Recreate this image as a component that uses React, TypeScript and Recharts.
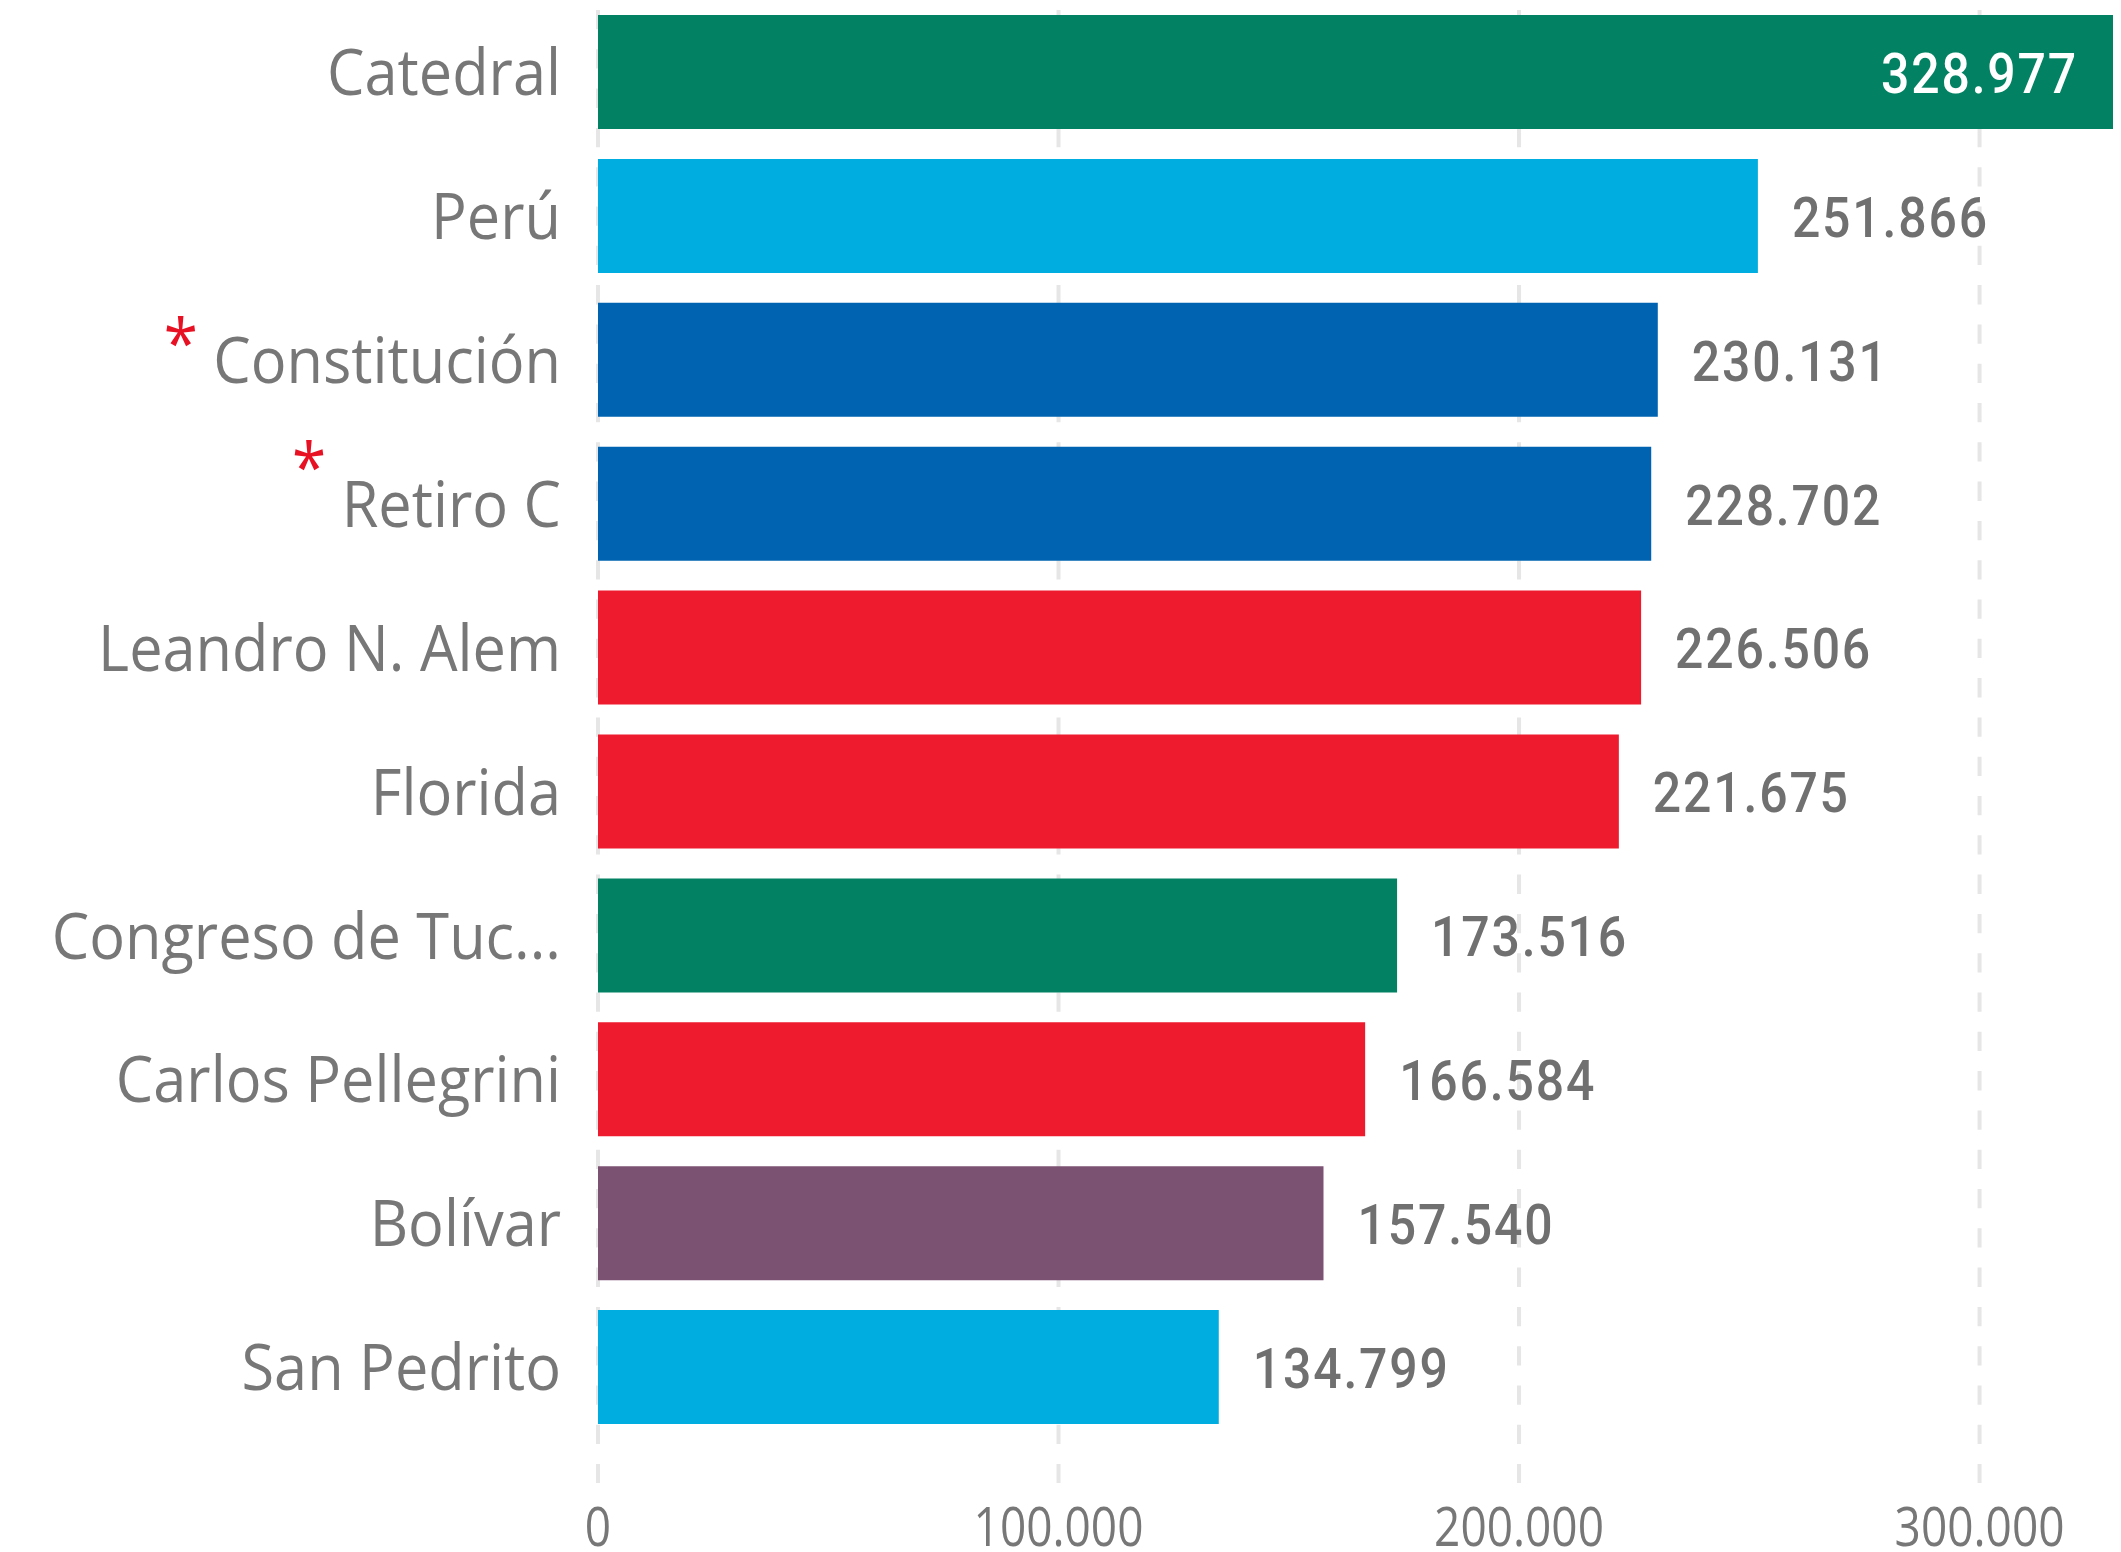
import React from "react";
import {
  BarChart,
  Bar,
  XAxis,
  YAxis,
  CartesianGrid,
  Cell,
  LabelList,
} from "recharts";

// pasajeros por estación (top 10)
const stations = [
  "Catedral",
  "Perú",
  "Constitución",
  "Retiro C",
  "Leandro N. Alem",
  "Florida",
  "Congreso de Tuc...",
  "Carlos Pellegrini",
  "Bolívar",
  "San Pedrito",
];
const passengers = [
  328977, 251866, 230131, 228702, 226506, 221675, 173516, 166584, 157540,
  134799,
];
const lines = ["D", "A", "C", "C", "B", "B", "D", "B", "E", "A"];
const starred = ["Constitución", "Retiro C"];
const axisTicks = [0, 100000, 200000, 300000];

const lineColors: Record<string, string> = {
  A: "#00ADE0",
  B: "#EE1B2E",
  C: "#0063B1",
  D: "#028262",
  E: "#7C5273",
};

// how far the red asterisk sits above the label
const starLift: Record<string, number> = {
  "Constitución": -14,
  "Retiro C": -32,
};

const W = 2121;
const H = 1552;
const GREY = "#777777";
const SANS = "'Segoe UI', 'Open Sans', sans-serif";

const fmt = (n: number) =>
  n.toString().replace(/\B(?=(\d{3})+(?!\d))/g, ".");

const data = stations.map((name, i) => ({
  name,
  value: passengers[i],
  color: lineColors[lines[i]],
}));

const CategoryTick = (props: any) => {
  const { x, y, payload } = props;
  const name: string = payload.value;
  const fs = 59.5;
  const hasStar = starred.includes(name);
  const lift = starLift[name] ?? 0;
  return (
    <g transform={`translate(${x},${y}) scale(1,1.09)`}>
      <text
        x={0}
        y={fs * 0.357}
        textAnchor="end"
        fontSize={fs}
        fontFamily={SANS}
        fill={GREY}
      >
        {hasStar && (
          <tspan fill="#E81123" fontSize={62} dy={lift}>
            *
          </tspan>
        )}
        <tspan dy={hasStar ? -lift : 0}>{(hasStar ? " " : "") + name}</tspan>
      </text>
    </g>
  );
};

const ValueTick = (props: any) => {
  const { x, y, payload } = props;
  const fs = 46;
  return (
    <g transform={`translate(${x},${y}) scale(1,1.2)`}>
      <text
        x={0}
        y={fs * 0.357}
        textAnchor="middle"
        fontSize={fs}
        fontFamily={SANS}
        fill={GREY}
      >
        {fmt(payload.value)}
      </text>
    </g>
  );
};

const BarValue = (props: any) => {
  const { x, y, width, height, value } = props;
  const fs = 50;
  const end = x + width;
  const inside = end + 34 + 200 > W;
  const tx = inside ? end - 35 : end + 34;
  const cy = y + height / 2 + 1;
  return (
    <g transform={`translate(${tx},${cy}) scale(1,1.12)`}>
      <text
        x={0}
        y={fs * 0.355}
        textAnchor={inside ? "end" : "start"}
        fontSize={fs}
        fontWeight={500}
        letterSpacing={1.8}
        fontFamily="Roboto, sans-serif"
        fill={inside ? "#ffffff" : "#707070"}
      >
        {fmt(value)}
      </text>
    </g>
  );
};

export default function App() {
  return (
    <div style={{ width: W, height: H, background: "#fff" }}>
      <style>{`body{margin:0}`}</style>
      <BarChart
        width={W}
        height={H}
        data={data}
        layout="vertical"
        margin={{ top: 0, right: 8, bottom: 0, left: 0 }}
      >
        <CartesianGrid
          horizontal={false}
          syncWithTicks
          stroke="#e6e6e6"
          strokeWidth={4}
          strokeDasharray="19.3 20"
          strokeDashoffset={29.3}
        />
        <XAxis
          type="number"
          domain={[0, "dataMax"]}
          ticks={axisTicks}
          axisLine={false}
          tickLine={false}
          tickSize={0}
          tickMargin={43}
          height={69}
          tick={<ValueTick />}
          interval={0}
        />
        <YAxis
          type="category"
          dataKey="name"
          width={598}
          axisLine={false}
          tickLine={false}
          tickSize={0}
          tickMargin={37}
          padding={{ top: 0, bottom: 44 }}
          tick={<CategoryTick />}
          interval={0}
        />
        <Bar dataKey="value" barSize={114} isAnimationActive={false}>
          {data.map((d, i) => (
            <Cell key={`c-${i}`} fill={d.color} />
          ))}
          <LabelList dataKey="value" content={<BarValue />} />
        </Bar>
      </BarChart>
    </div>
  );
}
